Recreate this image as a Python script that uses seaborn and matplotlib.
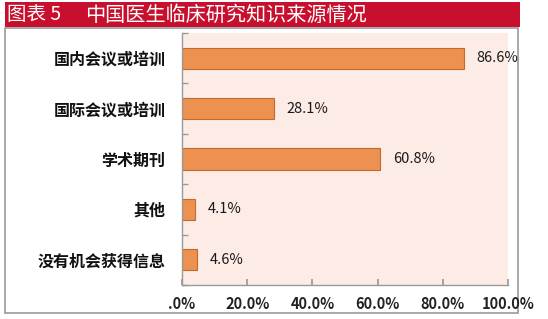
import numpy as np
import pandas as pd
import matplotlib
matplotlib.use('Agg')
import matplotlib.pyplot as plt
import seaborn as sns
from matplotlib.patches import Rectangle

# data
categories = ['国内会议或培训', '国际会议或培训', '学术期刊', '其他', '没有机会获得信息']
values = [86.6, 28.1, 60.8, 4.1, 4.6]
x_ticks = [0, 20, 40, 60, 80, 100]
x_tick_labels = ['.0%', '20.0%', '40.0%', '60.0%', '80.0%', '100.0%']
title_left = '图表 5'
title_right = '中国医生临床研究知识来源情况'

sns.set_theme(style='white')
plt.rcParams['font.family'] = ['Noto Sans CJK SC', 'DejaVu Sans']

df = pd.DataFrame({'source': categories, 'pct': values})

W, H = 548, 319
fig = plt.figure(figsize=(W / 100, H / 100), dpi=100)

# title bar and frame
fig.patches.append(Rectangle((5 / W, 1 - 27 / H), 515 / W, 25 / H,
                             transform=fig.transFigure, facecolor='#c8102e',
                             edgecolor='none', zorder=0))
fig.patches.append(Rectangle((5 / W, 1 - 313 / H), 513 / W, 285 / H,
                             transform=fig.transFigure, facecolor='none',
                             edgecolor='#9a9a9a', linewidth=1.2, zorder=0))
fig.text(7 / W, 1 - 15 / H, title_left, color='white', fontsize=14,
         va='center', ha='left')
fig.text(85 / W, 1 - 15 / H, title_right, color='white', fontsize=14.5,
         va='center', ha='left')

ax = fig.add_axes([182 / W, 1 - 285 / H, 326 / W, 252 / H])
ax.set_zorder(2)
sns.barplot(data=df, y='source', x='pct', orient='h', color='#ec9150',
            saturation=1, width=0.42, edgecolor='#c46a2e', linewidth=0.8, ax=ax)
ax.set_facecolor('#fdebe6')

ax.bar_label(ax.containers[0], labels=[f'{v:.1f}%' for v in values],
             padding=9, fontsize=10.5, color='#1a1a1a')

ax.set_xlim(0, 100)
ax.set_ylim(4.5, -0.5)
ax.set_xticks(x_ticks)
ax.set_xticklabels(x_tick_labels, fontsize=10.5, fontweight='bold', color='#222222')
ax.set_yticks(range(len(categories)))
ax.set_yticklabels(categories, fontsize=11.5, fontweight='bold', color='#111111')
ax.set_yticks(np.arange(-0.5, len(categories), 1), minor=True)
ax.tick_params(axis='y', which='major', length=0, pad=12)
ax.tick_params(axis='y', which='minor', length=4, direction='in', color='#9a9a9a', left=True)
ax.tick_params(axis='x', length=4, direction='in', color='#9a9a9a', bottom=True, pad=8)
ax.set_xlabel('')
ax.set_ylabel('')

for s in ['top', 'right']:
    ax.spines[s].set_visible(False)
for s in ['left', 'bottom']:
    ax.spines[s].set_color('#9a9a9a')
    ax.spines[s].set_linewidth(1)

fig.savefig('out.png', dpi=100)
